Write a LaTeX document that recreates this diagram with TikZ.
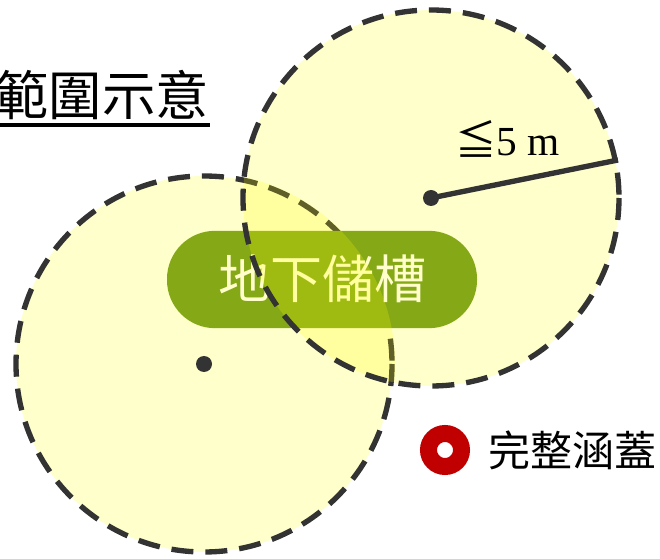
\documentclass[tikz,border=0pt]{standalone}
\usepackage{fontspec}
\newfontfamily\cjk{Noto Sans CJK TC}
\newfontfamily\tms{Liberation Serif}
\begin{document}
\begin{tikzpicture}[x=0.75pt,y=-0.75pt,
  dashedring/.style={draw=ringgray,line width=4pt,dash pattern=on 16.5pt off 9pt},
  dot/.style={circle,fill=ringgray,inner sep=0pt,minimum size=12pt},
  pill/.style={fill=pillgreen,rounded corners=36pt},
  ]
\definecolor{circyellow}{HTML}{FFFFCC}
\definecolor{lensyellow}{HTML}{FFFF00}
\definecolor{ringgray}{HTML}{333333}
\definecolor{pillgreen}{HTML}{85A817}
\definecolor{legendred}{HTML}{C00000}
\useasboundingbox (0,0) rectangle (660,559);
\clip (0,0) rectangle (660,559);
% circles fill
\coordinate (cL) at (204,364);
\coordinate (cR) at (431,198);
\fill[circyellow] (cL) circle[radius=188];
\fill[circyellow] (cR) circle[radius=188];
\draw[dashedring] (cL) circle[radius=188];
% pill
\node[pill,minimum width=232.5pt,minimum height=73pt,inner sep=0pt] (tank) at (322,279.5) {};
\node[text=circyellow,font=\cjk\fontsize{39}{39}\selectfont,inner sep=0pt] (tanklabel) at (322,279) {地下儲槽};
% lens overlay
\begin{scope}
  \clip (cR) circle[radius=188];
  \fill[lensyellow,opacity=0.22] (cL) circle[radius=191];
\end{scope}
\draw[dashedring] (cR) circle[radius=188];
% centre dots and radius
\node[dot] (dL) at (cL) {};
\node[dot] (dR) at (cR) {};
\coordinate (rimR) at (618,160);
\draw[ringgray,line width=4pt] (dR.center) -- (rimR);
\node[anchor=base west,inner sep=0pt,text=black] (rlabel) at (455,156) {{\cjk\fontsize{31}{31}\selectfont ≦}{\tms\fontsize{31}{31}\selectfont 5 m}};
% title
\node[anchor=east,inner sep=0pt,font=\cjk\fontsize{40}{40}\selectfont] (title) at (209,95) {範圍示意};
\coordinate (ulA) at (0,125);
\coordinate (ulB) at (210,125);
\draw[black,line width=2.3pt] (ulA) -- (ulB);
% legend
\node[circle,draw=legendred,line width=12.75pt,fill=white,minimum size=24.75pt,inner sep=0pt] (legmark) at (445,450) {};
\node[anchor=west,inner sep=0pt,font=\cjk\fontsize{31.5}{31.5}\selectfont] (legtext) at (488,450) {完整涵蓋};
\end{tikzpicture}
\end{document}
